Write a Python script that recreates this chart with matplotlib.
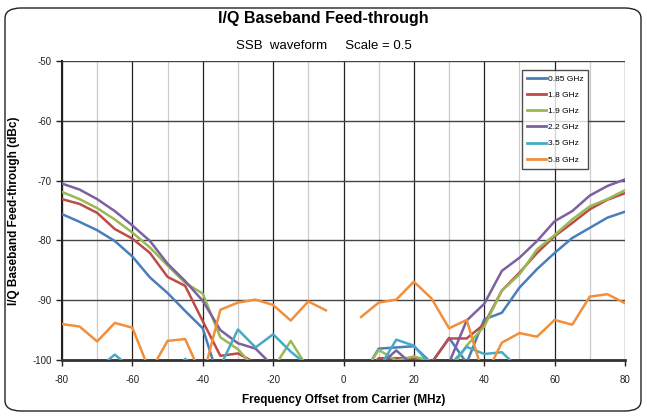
import numpy as np
import matplotlib
matplotlib.use('Agg')
import matplotlib.pyplot as plt
from matplotlib.patches import FancyBboxPatch

# frequency offset from carrier (MHz), one point every 5 MHz
freq = np.arange(-80, 85, 5)

# feed-through (dBc); values under -100 fall off the bottom of the chart
ft_085 = [-75.6, -76.9, -78.3, -80.1, -82.7, -86.2, -88.8, -91.8, -94.7, -104, -105, -105, -105, -105, -105, -105,
          np.nan, -103, -98.1, -97.9, -97.7, -100.5, -96.3, -100.5, -93.2, -92.1, -87.9, -84.8, -82.1, -79.6, -77.9, -76.2, -75.2]
ft_18 = [-73.1, -73.9, -75.4, -78.1, -79.7, -82.1, -86.1, -87.6, -93.5, -99.3, -98.9, -100.5, -103, -104, -104, -104,
         np.nan, -103, -99.7, -99.7, -99.7, -100.5, -96.4, -96.4, -94.0, -88.4, -85.4, -82.1, -79.3, -77.1, -74.8, -73.2, -72.1]
ft_19 = [-71.9, -73.1, -74.6, -76.5, -78.7, -81.2, -84.2, -87.1, -88.9, -96.2, -98.2, -101.5, -101.5, -96.8, -101.5, -103,
         np.nan, -103, -98.3, -100.1, -99.4, -100.2, -102, -97.6, -94.4, -88.4, -85.7, -81.5, -79.1, -76.5, -74.3, -73.1, -71.6]
ft_22 = [-70.5, -71.5, -73.1, -75.1, -77.5, -80.1, -83.9, -86.8, -90.1, -95.0, -97.2, -98.1, -101, -103, -104, -104,
         np.nan, -104, -101, -98.4, -101, -102, -100.5, -93.4, -90.6, -85.1, -82.9, -80.1, -76.8, -75.1, -72.5, -70.9, -69.8]
ft_35 = [-104, -104, -101.5, -99.1, -101.5, -104, -104, -99.8, -102, -101, -94.9, -97.9, -95.7, -98.6, -101, -104,
         np.nan, -104, -101.5, -96.6, -97.6, -101, -101, -97.8, -99.0, -98.7, -101.5, -104, -104, -104, -104, -104, -104]
ft_58 = [-94.0, -94.4, -96.9, -93.8, -94.6, -102, -96.8, -96.5, -103, -91.6, -90.4, -89.9, -90.8, -93.4, -90.2, -91.7,
         np.nan, -92.8, -90.4, -89.9, -86.9, -89.7, -94.7, -93.3, -103, -97.1, -95.5, -96.1, -93.3, -94.1, -89.4, -89.0, -90.5]

series = [('0.85 GHz', ft_085, '#4a7ebb'),
          ('1.8 GHz', ft_18, '#be4b48'),
          ('1.9 GHz', ft_19, '#98b954'),
          ('2.2 GHz', ft_22, '#7d60a0'),
          ('3.5 GHz', ft_35, '#46aac5'),
          ('5.8 GHz', ft_58, '#f28f3a')]

plt.rcParams['font.family'] = ['Liberation Sans', 'DejaVu Sans']
plt.rcParams['axes.unicode_minus'] = False

fig = plt.figure(figsize=(6.47, 4.16), dpi=100)
W, H = 647.0, 416.0

# rounded outer frame
frame = FancyBboxPatch((5 / W, 5 / H), 636 / W, 403 / H,
                       boxstyle='round,pad=0,rounding_size=0.025',
                       transform=fig.transFigure, fill=False,
                       edgecolor='#222222', linewidth=1.0)
fig.patches.append(frame)

ax = fig.add_axes([62 / W, 1 - 360 / H, 563 / W, 299 / H])

for name, vals, col in series:
    ax.plot(freq, vals, color=col, linewidth=1.8, label=name, zorder=3)

ax.set_xlim(-80, 80)
ax.set_ylim(-100, -50)
ax.set_xticks(np.arange(-80, 81, 20))
ax.set_xticks(np.arange(-70, 80, 20), minor=True)
ax.set_yticks(np.arange(-100, -49, 10))

ax.grid(True, which='major', axis='x', color='#222222', linewidth=0.9)
ax.grid(True, which='minor', axis='x', color='#cccccc', linewidth=0.9)
ax.grid(True, which='major', axis='y', color='#444444', linewidth=1.0)
ax.set_axisbelow(True)

for s in ['top', 'right']:
    ax.spines[s].set_visible(False)
ax.spines['left'].set_linewidth(1.5)
ax.spines['left'].set_color('#222222')
ax.spines['bottom'].set_linewidth(2.0)
ax.spines['bottom'].set_color('#333333')

ax.tick_params(axis='both', which='major', length=4, width=1, labelsize=7, colors='#222222')
ax.tick_params(axis='x', which='minor', length=0)
ax.tick_params(axis='x', pad=7)

ax.set_xlabel('Frequency Offset from Carrier (MHz)', fontsize=8.5, fontweight='bold', labelpad=6)
ax.set_ylabel('I/Q Baseband Feed-through (dBc)', fontsize=8.5, fontweight='bold', labelpad=9)

fig.text(0.5, 1 - 19 / H, 'I/Q Baseband Feed-through', ha='center', va='center',
         fontsize=11.5, fontweight='bold')
fig.text(0.5, 1 - 46 / H, 'SSB  waveform     Scale = 0.5', ha='center', va='center', fontsize=9.5)

leg = ax.legend(loc='upper right', bbox_to_anchor=(0.935, 0.97), fontsize=6,
                frameon=True, fancybox=False, handlelength=2.3, handletextpad=0.2,
                labelspacing=1.0, borderpad=0.6, borderaxespad=0)
leg.get_frame().set_edgecolor('#222222')
leg.get_frame().set_linewidth(1.0)
for line in leg.get_lines():
    line.set_linewidth(2.0)

fig.savefig('out.png', dpi=100)
